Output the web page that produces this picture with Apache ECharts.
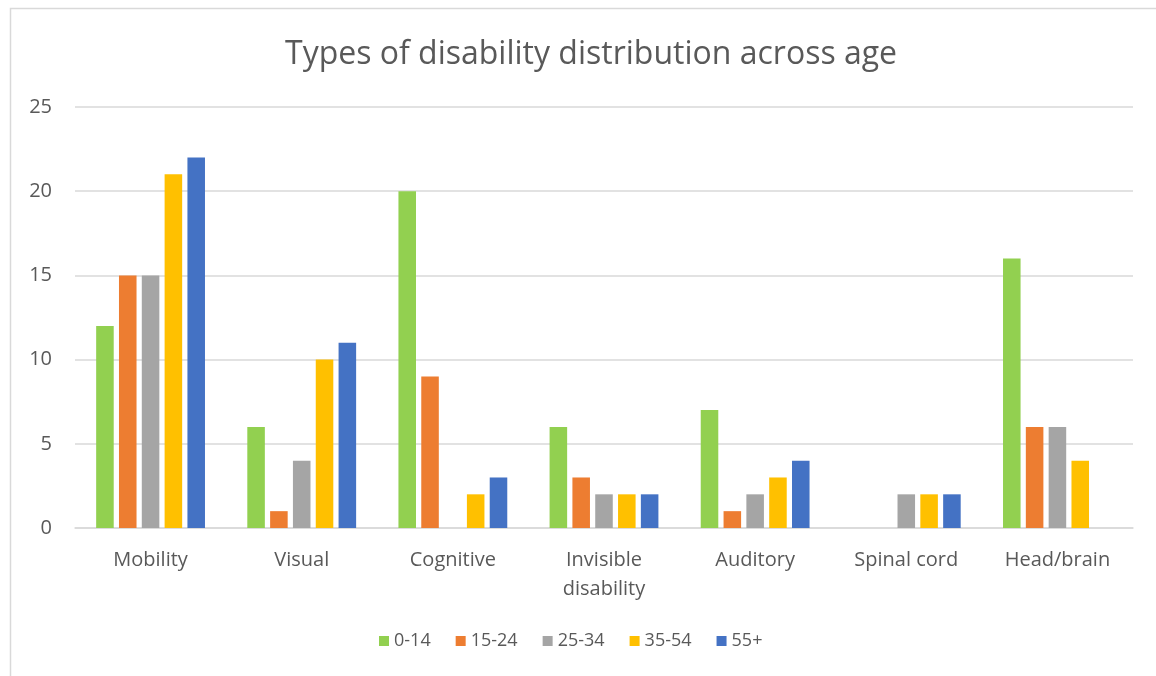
<!DOCTYPE html>
<html><head><meta charset="utf-8">
<script src="https://cdn.jsdelivr.net/npm/echarts@6/dist/echarts.min.js"></script>
<style>html,body{margin:0;padding:0;background:#fff}#c{width:1156px;height:676px}</style>
</head><body><div id="c"></div>
<script>
const categories = ['Mobility', 'Visual', 'Cognitive', 'Invisible\ndisability', 'Auditory', 'Spinal cord', 'Head/brain'];
const seriesNames = ['0-14', '15-24', '25-34', '35-54', '55+'];
const s0_14 = [12, 6, 20, 6, 7, 0, 16];
const s15_24 = [15, 1, 9, 3, 1, 0, 6];
const s25_34 = [15, 4, 0, 2, 2, 2, 6];
const s35_54 = [21, 10, 2, 2, 3, 2, 4];
const s55p = [22, 11, 3, 2, 4, 2, 0];
const colors = ['#92D050', '#ED7D31', '#A5A5A5', '#FFC000', '#4472C4'];
const allData = [s0_14, s15_24, s25_34, s35_54, s55p];
const font = '"Open Sans", "Noto Sans", sans-serif';
const chart = echarts.init(document.getElementById('c'), null, {renderer: 'canvas'});
chart.setOption({
  animation: false,
  color: colors,
  graphic: [{type: 'rect', shape: {x: 10.5, y: 8.5, width: 1160, height: 700}, style: {fill: 'none', stroke: '#D9D9D9', lineWidth: 1.5}, silent: true}],
  title: {text: 'Types of disability distribution across age', left: 280, top: 34,
    textStyle: {fontFamily: font, fontSize: 32, fontWeight: 'normal', color: '#595959'}},
  legend: {bottom: 21, left: 374, itemWidth: 10, itemHeight: 10, itemGap: 25, icon: 'rect',
    textStyle: {fontFamily: font, fontSize: 18, color: '#595959'}, data: seriesNames},
  grid: {left: 75, right: 23, top: 107, bottom: 148},
  xAxis: {type: 'category', data: categories,
    axisLine: {lineStyle: {color: '#D9D9D9', width: 1.5}}, axisTick: {show: false},
    axisLabel: {fontFamily: font, fontSize: 20, color: '#595959', margin: 18, lineHeight: 29}},
  yAxis: {type: 'value', min: 0, max: 25, interval: 5,
    axisLine: {show: false}, axisTick: {show: false},
    splitLine: {lineStyle: {color: '#D9D9D9', width: 1.5}},
    axisLabel: {fontFamily: font, fontSize: 20, color: '#595959', margin: 23}},
  series: seriesNames.map((n, i) => ({
    name: n, type: 'bar', data: allData[i], barGap: '30%', barCategoryGap: '28%'
  }))
});
</script></body></html>
